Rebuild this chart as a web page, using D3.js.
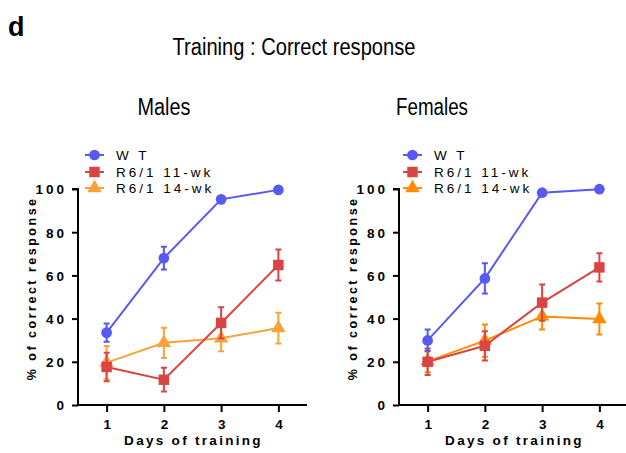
<!DOCTYPE html>
<html><head><meta charset="utf-8">
<script src="https://cdn.jsdelivr.net/npm/d3@7"></script>
<style>body{margin:0;background:#fff}svg{display:block}</style>
</head><body>
<script>
const days = [1, 2, 3, 4];
const yTicks = [0, 20, 40, 60, 80, 100];
const seriesNames = ["W T", "R6/1 11-wk", "R6/1 14-wk"];
// Males
const maleWT = [33.5, 68, 95.2, 99.6];
const maleWTErr = [4.2, 5.3, 1.2, 0.5];
const male11 = [17.6, 11.7, 38, 64.8];
const male11Err = [6.6, 5.5, 7.2, 7.2];
const male14 = [19.6, 28.8, 30.9, 35.6];
const male14Err = [7.7, 7, 6, 7.1];
// Females
const femaleWT = [29.9, 58.6, 98.3, 99.9];
const femaleWTErr = [5, 7, 0.5, 0.3];
const female11 = [20, 27.4, 47.4, 63.7];
const female11Err = [6.1, 6.8, 8.4, 6.5];
const female14 = [20.2, 29.8, 41, 39.8];
const female14Err = [5, 7.5, 6, 7.2];

const W = 626, H = 453;
const FONT = "Liberation Sans, Arial, sans-serif";
const svg = d3.select("body").append("svg").attr("width", W).attr("height", H);

svg.append("text").attr("x", 8).attr("y", 36).text("d")
  .attr("font-family", FONT).attr("font-weight", "bold").attr("font-size", 27);
svg.append("text").attr("x", 294).attr("y", 55).attr("text-anchor", "middle")
  .text("Training : Correct response")
  .attr("font-family", FONT).attr("font-size", 23)
  .attr("textLength", 243).attr("lengthAdjust", "spacingAndGlyphs");

function panel(cfg) {
  const g = svg.append("g");
  const x = d3.scaleLinear().domain([0.5, 4.5]).range([cfg.left, cfg.left + 229]);
  const y = d3.scaleLinear().domain([0, 100]).range([405, 189]);

  g.append("text").attr("x", cfg.titleX).attr("y", 115).attr("text-anchor", "middle")
    .text(cfg.title).attr("font-family", FONT).attr("font-size", 23)
    .attr("textLength", cfg.titleW).attr("lengthAdjust", "spacingAndGlyphs");

  // y axis
  const ya = g.append("g").attr("transform", `translate(${cfg.left},0)`)
    .call(d3.axisLeft(y).tickValues(yTicks).tickSize(6).tickPadding(5));
  ya.select(".domain").attr("stroke-width", 2).attr("d", `M-6,${y(100)}H0V${y(0)}`);
  ya.selectAll(".tick line").attr("stroke-width", 2);
  ya.selectAll(".tick text").attr("font-family", FONT)
    .attr("font-weight", "bold").attr("font-size", 13.5).style("letter-spacing", "3px").attr("dy", "0.36em");

  // x axis
  const xa = g.append("g").attr("transform", `translate(0,${y(0)})`)
    .call(d3.axisBottom(x).tickValues(days).tickFormat(d3.format("d")).tickSize(7).tickPadding(6));
  xa.select(".domain").attr("stroke-width", 2).attr("d", `M${cfg.left},0H${cfg.left + 229}`);
  xa.selectAll(".tick line").attr("stroke-width", 2);
  xa.selectAll(".tick text").attr("font-family", FONT)
    .attr("font-weight", "bold").attr("font-size", 13.5).attr("dy", "0.85em");

  g.append("text").attr("x", x(2.5) + 1).attr("y", 445).attr("text-anchor", "middle")
    .text("Days of training").attr("font-family", FONT)
    .attr("font-weight", "bold").attr("font-size", 13.5).style("letter-spacing", "2.3px");
  g.append("text").attr("transform", `translate(${cfg.left - 42},${y(54)}) rotate(-90)`)
    .attr("text-anchor", "middle").text("% of correct response")
    .attr("font-family", FONT)
    .attr("font-weight", "bold").attr("font-size", 12.5).style("letter-spacing", "2.5px");

  const line = d3.line().x((d, i) => x(days[i])).y(d => y(d));
  const shapes = [d3.symbolCircle, d3.symbolSquare, d3.symbolTriangle];
  const sizes = [90, 110, 90];
  const order = [2, 1, 0];
  order.forEach(k => {
    const vals = cfg.vals[k], errs = cfg.errs[k], col = cfg.colors[k];
    const sg = g.append("g");
    sg.append("path").attr("d", line(vals)).attr("fill", "none").attr("stroke", col).attr("stroke-width", 2);
    vals.forEach((v, i) => {
      const cx = x(days[i]);
      const t = y(v + errs[i]), b = y(v - errs[i]);
      sg.append("path").attr("d", `M${cx},${t}V${b}M${cx - 3},${t}H${cx + 3}M${cx - 3},${b}H${cx + 3}`)
        .attr("stroke", col).attr("stroke-width", 2).attr("fill", "none");
      sg.append("path").attr("d", d3.symbol().type(shapes[k]).size(sizes[k])())
        .attr("transform", `translate(${cx},${y(v)})`).attr("fill", col);
    });
  });

  // legend
  const lg = g.append("g");
  const rows = [155, 172, 188];
  seriesNames.forEach((name, k) => {
    const col = cfg.colors[k];
    lg.append("line").attr("x1", cfg.legX).attr("x2", cfg.legX + 19).attr("y1", rows[k]).attr("y2", rows[k])
      .attr("stroke", col).attr("stroke-width", 2);
    lg.append("path").attr("d", d3.symbol().type(shapes[k]).size(sizes[k])())
      .attr("transform", `translate(${cfg.legX + 9.5},${rows[k]})`).attr("fill", col);
    lg.append("text").attr("x", cfg.legX + 31).attr("y", rows[k]).attr("dy", "0.36em").text(name)
      .attr("font-family", FONT).attr("font-size", 13.5)
      .style("letter-spacing", "3px");
  });
}

panel({
  left: 78, title: "Males", titleX: 164, titleW: 53, legX: 85,
  vals: [maleWT, male11, male14], errs: [maleWTErr, male11Err, male14Err],
  colors: ["#5858f2", "#d94444", "#f9a13a"]
});
panel({
  left: 399, title: "Females", titleX: 432, titleW: 72, legX: 403,
  vals: [femaleWT, female11, female14], errs: [femaleWTErr, female11Err, female14Err],
  colors: ["#5858f2", "#d94444", "#ff8c00"]
});
</script>
</body></html>
